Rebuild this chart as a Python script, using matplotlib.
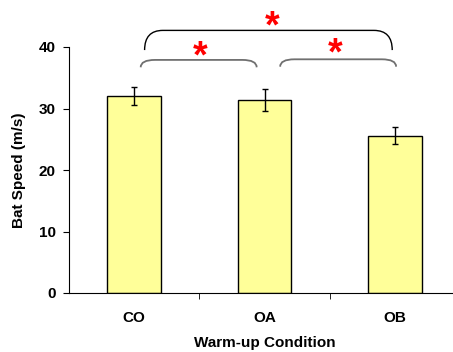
import numpy as np
import matplotlib.pyplot as plt
from matplotlib.path import Path
from matplotlib.patches import PathPatch

plt.rcParams['font.family'] = ['Liberation Sans', 'DejaVu Sans']

# datos
conditions = ['CO', 'OA', 'OB']
bat_speed = [32.0, 31.4, 25.6]
bat_err = [1.5, 1.8, 1.45]

# comparaciones significativas: (x inicio, x fin, altura de la llave, patas)
brackets = [(0.08, 1.98, 42.7, 3.2, 0.14, 'black', 1.0),
            (0.05, 0.94, 37.9, 1.2, 0.11, '#707070', 1.3),
            (1.12, 2.01, 38.0, 1.2, 0.11, '#707070', 1.3)]
stars_x = [1.06, 0.51, 1.54]
stars_y = [41.6, 36.75, 37.2]  # linea base del asterisco

fig = plt.figure(figsize=(4.53, 3.52), dpi=100)
ax = fig.add_axes([69 / 453, 1 - 293 / 352, 391 / 453, 246 / 352])

x = np.arange(len(conditions))
ax.bar(x, bat_speed, width=0.41, color='#FFFF99', edgecolor='black', linewidth=1, zorder=2)
ax.errorbar(x, bat_speed, yerr=bat_err, fmt='none', ecolor='black', elinewidth=1,
            capsize=2.5, capthick=1, zorder=3)


def draw_bracket(x0, x1, y, leg, rx, color, lw):
    # llave con esquinas redondeadas
    verts = [(x0, y - leg), (x0, y), (x0 + rx, y),
             (x1 - rx, y), (x1, y), (x1, y - leg)]
    codes = [Path.MOVETO, Path.CURVE3, Path.CURVE3,
             Path.LINETO, Path.CURVE3, Path.CURVE3]
    ax.add_patch(PathPatch(Path(verts, codes), facecolor='none', edgecolor=color,
                           linewidth=lw, clip_on=False))


for b in brackets:
    draw_bracket(*b)

for sx, sy in zip(stars_x, stars_y):
    ax.text(sx, sy, '*', color='red', fontsize=27, fontweight='bold',
            ha='center', va='baseline', clip_on=False)

ax.set_xlim(-0.5, 2.5)
ax.set_ylim(0, 40)
ax.set_yticks([0, 10, 20, 30, 40])
ax.set_xticks(x)
ax.set_xticklabels(conditions, fontweight='bold', fontsize=11)
ax.set_xticks([0.5, 1.5], minor=True)
ax.tick_params(axis='x', which='major', length=0, pad=13)
ax.tick_params(axis='x', which='minor', length=4, direction='out')
ax.tick_params(axis='y', length=4.5, direction='out', labelsize=11, pad=5)
for lab in ax.get_yticklabels():
    lab.set_fontweight('bold')

ax.spines['top'].set_visible(False)
ax.spines['right'].set_visible(False)

ax.set_ylabel('Bat Speed (m/s)', fontweight='bold', fontsize=11, labelpad=9)
ax.set_xlabel('Warm-up Condition', fontweight='bold', fontsize=11, labelpad=8)

fig.savefig('out.png', dpi=100)
